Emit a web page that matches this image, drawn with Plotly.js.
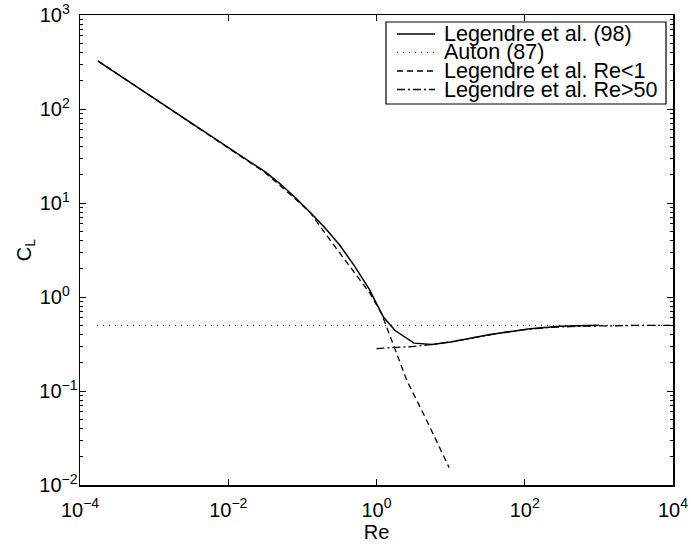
<!DOCTYPE html>
<html>
<head>
<meta charset="utf-8">
<script src="https://cdn.plot.ly/plotly-3.0.1.min.js"></script>
<style>
  html, body { margin: 0; padding: 0; background: #fff; }
  #chart { width: 691px; height: 544px; }
</style>
</head>
<body>
<div id="chart"></div>
<script>
// Legendre et al. (98) - full curve
var reLegendre = [1.75e-4, 1e-3, 1e-2, 3.16e-2, 5.01e-2, 7.94e-2, 0.126, 0.2, 0.316, 0.501, 0.794, 1.24, 1.78, 3.2, 5.6, 10, 34, 118, 300, 1000];
var clLegendre = [324, 130, 39.5, 21.4, 16.0, 11.5, 8.04, 5.50, 3.59, 2.16, 1.22, 0.612, 0.44, 0.323, 0.313, 0.332, 0.398, 0.46, 0.487, 0.5];

// Auton (87)
var reAuton = [1.7e-4, 1e4];
var clAuton = [0.5, 0.5];

// Legendre et al. Re<1
var reLow = [1.75e-4, 1e-3, 1e-2, 3.16e-2, 6.82e-2, 0.127, 0.237, 0.441, 0.82, 1.18, 2.56, 4.76, 9.55];
var clLow = [324, 130, 39.1, 21.0, 12.4, 7.94, 4.02, 2.09, 1.09, 0.655, 0.130, 0.0486, 0.0153];

// Legendre et al. Re>50
var reHigh = [1, 1.5, 2, 3, 5, 7, 10, 20, 30, 50, 100, 200, 500, 1000, 3000, 10000];
var clHigh = [0.283, 0.287, 0.290, 0.297, 0.309, 0.320, 0.333, 0.367, 0.388, 0.418, 0.450, 0.472, 0.488, 0.494, 0.498, 0.499];

// Tick labels
var xTickVals = [1e-4, 1e-2, 1, 1e2, 1e4];
var xTickText = ['10<sup>\u22124</sup>', '10<sup>\u22122</sup>', '10<sup>0</sup>', '10<sup>2</sup>', '10<sup>4</sup>'];
var yTickVals = [1e-2, 1e-1, 1, 10, 100, 1000];
var yTickText = ['10<sup>\u22122</sup>', '10<sup>\u22121</sup>', '10<sup>0\u00a0\u00a0</sup>', '10<sup>1\u00a0\u00a0</sup>', '10<sup>2\u00a0\u00a0</sup>', '10<sup>3\u00a0\u00a0</sup>'];

var legendNames = ['Legendre et al. (98)', 'Auton (87)', 'Legendre et al. Re<1', 'Legendre et al. Re>50'];

var dashSolid = 'solid', dashDot = '1px,5px', dashDash = '6px,4px', dashDashDot = '8px,3px,2px,3px';

var traces = [
  {x: reAuton, y: clAuton, mode: 'lines', name: legendNames[1], line: {color: '#000', width: 1, dash: dashDot}},
  {x: reLow, y: clLow, mode: 'lines', name: legendNames[2], line: {color: '#000', width: 1.3, dash: dashDash}},
  {x: reHigh, y: clHigh, mode: 'lines', name: legendNames[3], line: {color: '#000', width: 1.3, dash: dashDashDot}},
  {x: reLegendre, y: clLegendre, mode: 'lines', name: legendNames[0], line: {color: '#000', width: 1.5, dash: dashSolid}}
];

// custom legend (paper coordinates)
var L = 80, R = 673, T = 15, B = 485;
function px(x) { return (x - L) / (R - L); }
function py(y) { return (B - y) / (B - T); }
var rowsY = [34, 52.5, 71, 89.5];
var dashes = [dashSolid, dashDot, dashDash, dashDashDot];
var widths = [1.5, 1, 1.3, 1.3];
var shapes = [{
  type: 'rect', xref: 'paper', yref: 'paper',
  x0: px(386), x1: px(666), y0: py(104), y1: py(22),
  line: {color: '#000', width: 1.2}, fillcolor: '#fff', layer: 'above'
}];
var annotations = [];
for (var i = 0; i < 4; i++) {
  shapes.push({type: 'line', xref: 'paper', yref: 'paper',
    x0: px(397), x1: px(435), y0: py(rowsY[i]), y1: py(rowsY[i]),
    line: {color: '#000', width: widths[i], dash: dashes[i]}, layer: 'above'});
  annotations.push({xref: 'paper', yref: 'paper', x: px(442), y: py(rowsY[i]),
    xanchor: 'left', yanchor: 'middle', showarrow: false,
    text: legendNames[i].replace('<', '&lt;').replace('>', '&gt;'),
    font: {size: 21.5, color: '#000'}});
}

var axisCommon = {
  type: 'log', showgrid: false, zeroline: false,
  showline: true, linecolor: '#000', linewidth: 1.5, mirror: 'ticks',
  ticks: 'inside', ticklen: 6, tickwidth: 1, tickcolor: '#000',
  tickmode: 'array', tickfont: {size: 20, color: '#000'}
};

var layout = {
  width: 691, height: 544,
  margin: {l: L, r: 691 - R, t: T, b: 544 - B},
  paper_bgcolor: '#fff', plot_bgcolor: '#fff',
  font: {family: '"Liberation Sans", Arial, Helvetica, sans-serif', color: '#000', size: 20},
  showlegend: false,
  xaxis: Object.assign({}, axisCommon, {
    range: [-4, 4], tickvals: xTickVals, ticktext: xTickText,
    ticklabelstandoff: 6,
    title: {text: 'Re', font: {size: 20}, standoff: 4}
  }),
  yaxis: Object.assign({}, axisCommon, {
    range: [-2, 3], tickvals: yTickVals, ticktext: yTickText,
    ticklabelstandoff: -3,
    minor: {ticks: 'inside', ticklen: 3, tickwidth: 1, tickcolor: '#000', dtick: 'D1', showgrid: false},
    title: {text: 'C<sub>L</sub>', font: {size: 20}, standoff: 2}
  }),
  shapes: shapes,
  annotations: annotations
};

Plotly.newPlot('chart', traces, layout, {displayModeBar: false, staticPlot: true});
</script>
</body>
</html>
